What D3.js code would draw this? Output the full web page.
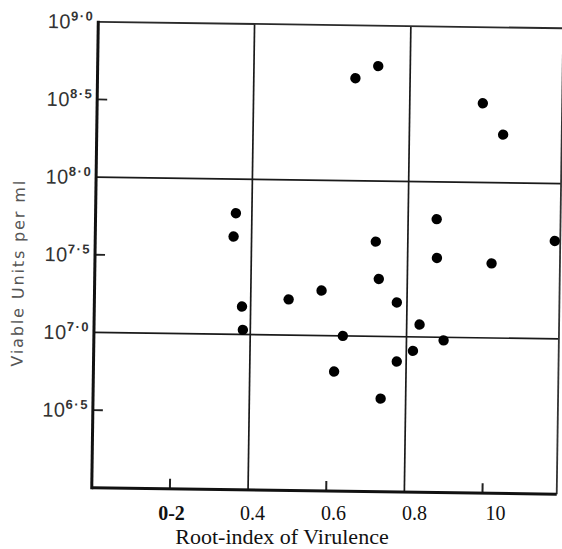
<!DOCTYPE html>
<html>
<head>
<meta charset="utf-8">
<script src="https://cdn.jsdelivr.net/npm/d3@7"></script>
<style>
  html, body { margin: 0; padding: 0; background: #fff; }
  svg { display: block; }
</style>
</head>
<body>
<script>
// Root-index of virulence of each strain
const rootIndex = [
  0.66, 0.718, 0.987, 1.04,
  0.359, 0.354, 0.378, 0.381,
  0.497, 0.581, 0.718, 0.727,
  0.774, 0.637, 0.616, 0.776,
  0.817, 0.833, 0.895, 0.873,
  0.875, 1.015, 1.176, 0.736
];
// log10 of viable units per ml for the same strains
const logViable = [
  8.66, 8.74, 8.51, 8.31,
  7.78, 7.63, 7.18, 7.03,
  7.23, 7.29, 7.61, 7.37,
  7.22, 7.00, 6.77, 6.84,
  6.91, 7.08, 6.98, 7.76,
  7.51, 7.48, 7.63, 6.60
];

const yLabelValues = [9.0, 8.5, 8.0, 7.5, 7.0, 6.5];
const yLabelExponents = ["9·0", "8·5", "8·0", "7·5", "7·0", "6·5"];
const yGridValues = [7.0, 8.0];
const yShortTicks = [6.5, 7.5, 8.5];

const xGridValues = [0.4, 0.8];
const xShortTicks = [0.2, 0.6, 1.0];
const xLabelValues = [0.2, 0.4, 0.6, 0.8, 1.0];
const xLabelText = ["0-2", "0.4", "0.6", "0.8", "10"];

const xTitle = "Root-index of Virulence";
const yTitle = "Viable Units per ml";

const W = 562, H = 549;
const box = { left: 95, right: 560, top: 25, bottom: 491 };

const x = d3.scaleLinear().domain([0, 1.19]).range([box.left, box.right]);
const y = d3.scaleLinear().domain([6, 9]).range([box.bottom, box.top]);

const svg = d3.select("body").append("svg")
  .attr("width", W).attr("height", H)
  .attr("viewBox", `0 0 ${W} ${H}`);

svg.append("rect").attr("width", W).attr("height", H).attr("fill", "#fff");

// the printed plate sits at a slight clockwise tilt
const plate = svg.append("g").attr("transform", "rotate(0.8 326 258)");

// grid lines
plate.selectAll("line.hgrid").data(yGridValues).join("line")
  .attr("class", "hgrid")
  .attr("x1", box.left).attr("x2", box.right)
  .attr("y1", d => y(d)).attr("y2", d => y(d))
  .attr("stroke", "#1a1a1a").attr("stroke-width", 1.7);

plate.selectAll("line.vgrid").data(xGridValues).join("line")
  .attr("class", "vgrid")
  .attr("x1", d => x(d)).attr("x2", d => x(d))
  .attr("y1", box.top).attr("y2", box.bottom)
  .attr("stroke", "#1a1a1a").attr("stroke-width", 1.7);

// short inner ticks
plate.selectAll("line.ytick").data(yShortTicks).join("line")
  .attr("class", "ytick")
  .attr("x1", box.left).attr("x2", box.left + 10)
  .attr("y1", d => y(d)).attr("y2", d => y(d))
  .attr("stroke", "#222").attr("stroke-width", 1.8);

plate.selectAll("line.xtick").data(xShortTicks).join("line")
  .attr("class", "xtick")
  .attr("x1", d => x(d)).attr("x2", d => x(d))
  .attr("y1", box.bottom).attr("y2", box.bottom - 10)
  .attr("stroke", "#222").attr("stroke-width", 2);

// frame
plate.append("line")
  .attr("x1", box.left).attr("x2", box.right)
  .attr("y1", box.top).attr("y2", box.top)
  .attr("stroke", "#2a2a2a").attr("stroke-width", 1.8);
plate.append("line")
  .attr("x1", box.right).attr("x2", box.right)
  .attr("y1", box.top).attr("y2", box.bottom)
  .attr("stroke", "#333").attr("stroke-width", 1.8);
plate.append("line")
  .attr("x1", box.left).attr("x2", box.right)
  .attr("y1", box.bottom).attr("y2", box.bottom)
  .attr("stroke", "#111").attr("stroke-width", 3);
plate.append("line")
  .attr("x1", box.left).attr("x2", box.left)
  .attr("y1", box.top - 1).attr("y2", box.bottom + 1.5)
  .attr("stroke", "#111").attr("stroke-width", 3);

// points
plate.selectAll("circle.pt").data(rootIndex.map((r, i) => [r, logViable[i]])).join("circle")
  .attr("class", "pt")
  .attr("cx", d => x(d[0])).attr("cy", d => y(d[1]))
  .attr("r", 5.2)
  .attr("fill", "#000");

// y tick labels: 10 with raised exponent
const yl = plate.selectAll("text.ylab").data(yLabelValues).join("text")
  .attr("class", "ylab")
  .attr("x", box.left - 4)
  .attr("y", d => y(d) + 7)
  .attr("text-anchor", "end")
  .attr("fill", "#333")
  .attr("font-family", "'Liberation Sans', Arial, sans-serif");
yl.append("tspan")
  .attr("font-size", 20)
  .attr("letter-spacing", 0.5)
  .text("10");
yl.append("tspan")
  .attr("font-size", 13)
  .attr("font-weight", "bold")
  .attr("dy", -8)
  .attr("letter-spacing", 1.5)
  .text((d, i) => yLabelExponents[i]);

// y title
plate.append("text")
  .attr("transform", "translate(24, 278) rotate(-90)")
  .attr("text-anchor", "middle")
  .attr("font-family", "'DejaVu Sans', sans-serif")
  .attr("font-size", 16)
  .attr("fill", "#555")
  .attr("textLength", 186)
  .attr("lengthAdjust", "spacing")
  .text(yTitle);

// x tick labels, typeset below the plate
const xLabelScale = d3.scaleLinear().domain([0.2, 1.0]).range([171, 495]);
const xAxis = d3.axisBottom(xLabelScale)
  .tickValues(xLabelValues)
  .tickFormat((d, i) => xLabelText[i])
  .tickSize(0)
  .tickPadding(0);

const gx = svg.append("g")
  .attr("transform", "translate(0, 519.5)")
  .call(xAxis);
gx.select(".domain").remove();
gx.selectAll("text")
  .attr("dy", 0)
  .attr("font-family", "'Liberation Serif', 'Times New Roman', serif")
  .attr("font-size", 20)
  .attr("fill", "#111")
  .attr("font-weight", (d, i) => i === 0 ? "bold" : "normal");

// x title
svg.append("text")
  .attr("x", 282)
  .attr("y", 544)
  .attr("text-anchor", "middle")
  .attr("font-family", "'Liberation Serif', 'Times New Roman', serif")
  .attr("font-size", 22)
  .attr("fill", "#111")
  .text(xTitle);
</script>
</body>
</html>
